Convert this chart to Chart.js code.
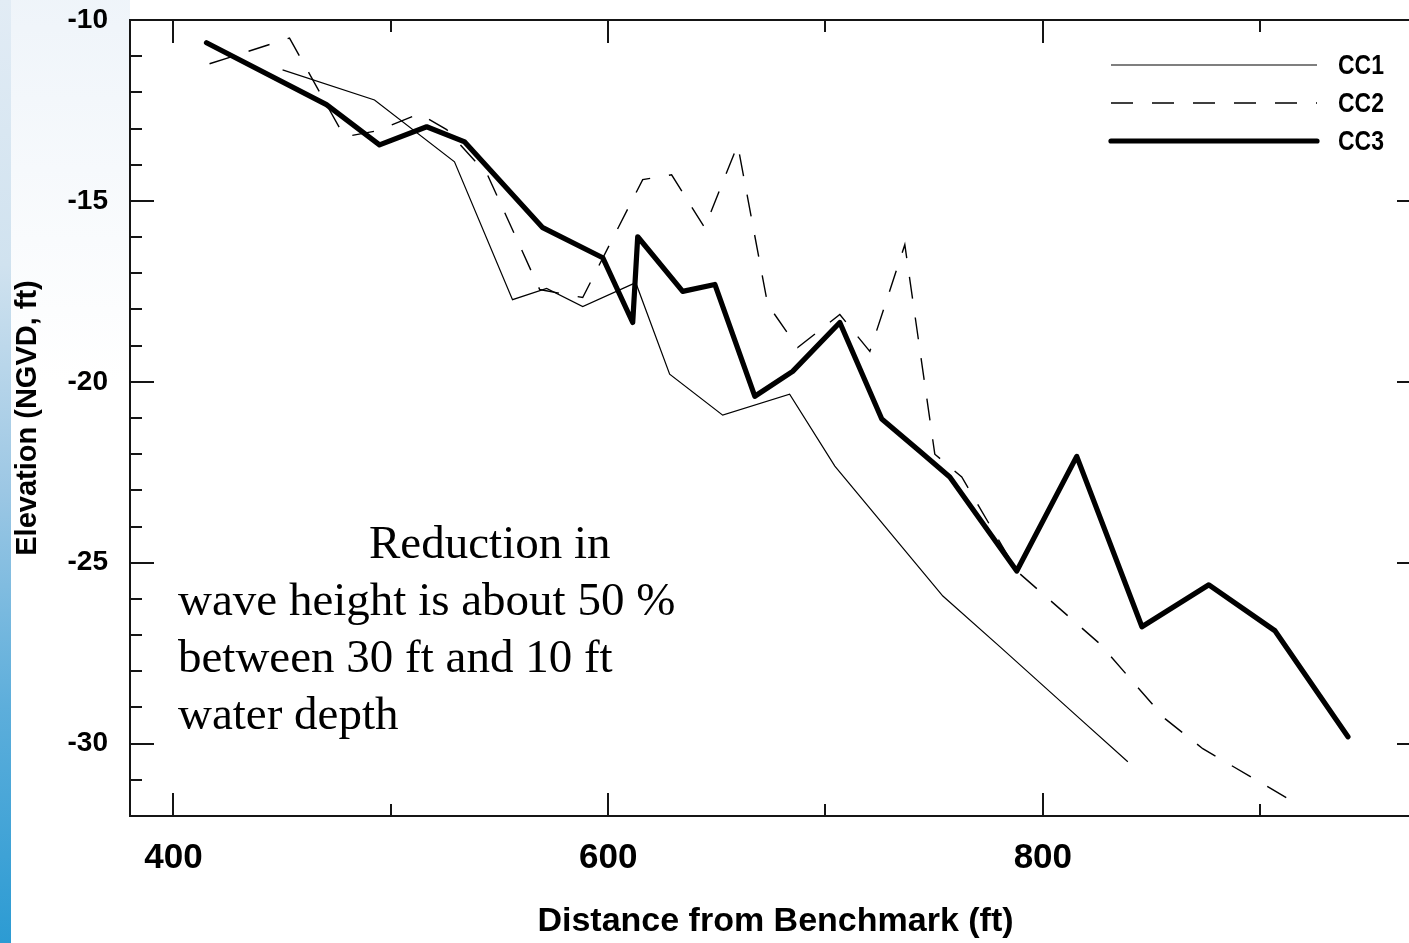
<!DOCTYPE html>
<html>
<head>
<meta charset="utf-8">
<script src="https://cdn.jsdelivr.net/npm/chart.js@4.4.0/dist/chart.umd.min.js"></script>
<style>
html,body{margin:0;padding:0;background:#fff;overflow:hidden;width:1409px;height:943px;}
#fade{position:absolute;left:11px;top:0;width:119px;height:380px;background:linear-gradient(to bottom,rgba(228,237,246,0.6),rgba(255,255,255,0));}
#strip{position:absolute;left:0;top:0;width:11px;height:943px;background:linear-gradient(to bottom,#e2ecf5 0%,#d0e2ef 28%,#9cc7e4 52%,#5daedb 75%,#2c9bd3 100%);}
#wrap{position:absolute;left:0;top:0;width:1430px;height:943px;}
</style>
</head>
<body>
<div id="fade"></div>
<div id="strip"></div>
<div id="wrap"><canvas id="c" width="1430" height="943"></canvas></div>
<script>
// ---- Data ----
const SERIES_NAMES = ['CC1', 'CC2', 'CC3'];

const CC1_X = [450.2, 492.5, 529.3, 556.0, 571.7, 588.3, 612.7, 628.3, 652.7, 683.5, 704.3, 754.0, 780.2, 817.0, 839.1];
const CC1_Y = [-11.38, -12.21, -13.92, -17.73, -17.42, -17.92, -17.26, -19.79, -20.92, -20.34, -22.33, -25.92, -27.32, -29.31, -30.50];

const CC2_X = [416.6, 453.4, 478.7, 493.9, 513.2, 525.7, 544.5, 568.5, 588.3, 615.9, 629.2, 644.4, 659.6, 673.4, 687.2, 706.6, 720.4, 736.5, 750.3, 762.7, 788.0, 826.2, 856.2, 873.6, 915.1];
const CC2_Y = [-11.21, -10.50, -13.23, -13.06, -12.59, -13.03, -14.28, -17.45, -17.67, -14.41, -14.28, -15.74, -13.45, -17.86, -19.05, -18.14, -19.16, -16.21, -22.00, -22.63, -25.23, -27.24, -29.31, -30.14, -31.60];

const CC3_X = [415.2, 470.4, 494.8, 516.5, 534.0, 569.9, 597.5, 611.3, 613.6, 634.3, 649.1, 667.5, 684.9, 706.6, 725.9, 743.4, 757.2, 788.0, 815.6, 845.6, 876.4, 906.8, 940.4];
const CC3_Y = [-10.63, -12.34, -13.45, -12.95, -13.37, -15.74, -16.57, -18.36, -15.99, -17.50, -17.31, -20.40, -19.71, -18.36, -21.03, -21.92, -22.63, -25.23, -22.06, -26.77, -25.61, -26.88, -29.81];

const X_TICKS = [400, 500, 600, 700, 800, 900];
const X_LABELED = [400, 600, 800];
const Y_TICKS = [-31, -30, -29, -28, -27, -26, -25, -24, -23, -22, -21, -20, -19, -18, -17, -16, -15, -14, -13, -12, -11, -10];
const Y_LABELED = [-30, -25, -20, -15, -10];

const X_TITLE = 'Distance from Benchmark (ft)';
const Y_TITLE = 'Elevation (NGVD, ft)';
const NOTE_LINES = ['Reduction in', 'wave height is about 50 %', 'between 30 ft and 10 ft', 'water depth'];

// ---- Chart ----
const toPts = (xs, ys) => xs.map((v, i) => ({x: v, y: ys[i]}));
const noPad = s => { s.paddingTop = 0; s.paddingBottom = 0; s.paddingLeft = 0; s.paddingRight = 0; };

const overlay = {
  id: 'overlay',
  afterDraw(chart) {
    const {ctx, chartArea: a, scales: {x, y}} = chart;
    ctx.save();
    ctx.strokeStyle = '#151515';
    ctx.lineWidth = 2;
    ctx.strokeRect(a.left, a.top, a.right - a.left, a.bottom - a.top);
    ctx.beginPath();
    y.ticks.forEach(t => {
      const p = Math.round(y.getPixelForValue(t.value));
      const L = Y_LABELED.includes(t.value) ? 24 : 12;
      ctx.moveTo(a.left, p); ctx.lineTo(a.left + L, p);
      ctx.moveTo(a.right, p); ctx.lineTo(a.right - L, p);
    });
    x.ticks.forEach(t => {
      const p = Math.round(x.getPixelForValue(t.value));
      const L = X_LABELED.includes(t.value) ? 23 : 12;
      ctx.moveTo(p, a.bottom); ctx.lineTo(p, a.bottom - L);
      ctx.moveTo(p, a.top); ctx.lineTo(p, a.top + L);
    });
    ctx.stroke();

    // legend
    const ly = [65, 103, 141];
    chart.data.datasets.forEach((ds, i) => {
      ctx.save();
      ctx.strokeStyle = '#000';
      ctx.lineWidth = ds.borderWidth;
      ctx.lineCap = ds.borderCapStyle || 'butt';
      ctx.setLineDash(ds.borderDash || []);
      ctx.beginPath();
      ctx.moveTo(1111, ly[i]); ctx.lineTo(1317, ly[i]);
      ctx.stroke();
      ctx.restore();
      ctx.save();
      ctx.translate(1338, ly[i] + 1);
      ctx.scale(0.82, 1);
      ctx.fillStyle = '#000';
      ctx.font = 'bold 28px "Liberation Sans", Arial, sans-serif';
      ctx.textBaseline = 'middle';
      ctx.textAlign = 'left';
      ctx.fillText(ds.label, 0, 0);
      ctx.restore();
    });

    // annotation text
    ctx.fillStyle = '#000';
    ctx.font = '47px "Liberation Serif", "Times New Roman", serif';
    ctx.textBaseline = 'alphabetic';
    ctx.textAlign = 'left';
    const nx = [369, 178, 178, 178];
    const nb = [558, 615, 672, 729];
    NOTE_LINES.forEach((s, i) => ctx.fillText(s, nx[i], nb[i]));
    ctx.restore();
  }
};

new Chart(document.getElementById('c'), {
  type: 'line',
  data: {
    datasets: [
      {label: SERIES_NAMES[0], data: toPts(CC1_X, CC1_Y), borderColor: '#000', borderWidth: 1.2, pointRadius: 0, tension: 0, fill: false},
      {label: SERIES_NAMES[1], data: toPts(CC2_X, CC2_Y), borderColor: '#000', borderWidth: 1.4, borderDash: [22, 19], pointRadius: 0, tension: 0, fill: false},
      {label: SERIES_NAMES[2], data: toPts(CC3_X, CC3_Y), borderColor: '#000', borderWidth: 5.2, borderJoinStyle: 'round', borderCapStyle: 'round', pointRadius: 0, tension: 0, fill: false}
    ]
  },
  options: {
    responsive: false,
    animation: false,
    events: [],
    layout: {padding: {top: 20, right: 9, bottom: 0, left: 0}},
    plugins: {legend: {display: false}, tooltip: {enabled: false}, title: {display: false}},
    scales: {
      x: {
        type: 'linear', position: 'bottom', min: 380, max: 974,
        afterBuildTicks: s => { s.ticks = X_TICKS.map(v => ({value: v})); },
        afterFit: s => { s.height = 127; noPad(s); },
        grid: {display: false},
        border: {display: false},
        ticks: {
          autoSkip: false, maxRotation: 0, padding: 13, color: '#000',
          font: {family: '"Liberation Sans", Arial, sans-serif', size: 35, weight: 'bold'},
          callback: v => X_LABELED.includes(v) ? String(v) : ''
        },
        title: {display: true, text: X_TITLE, color: '#000', padding: {top: 0, bottom: 1},
          font: {family: '"Liberation Sans", Arial, sans-serif', size: 34, weight: 'bold'}}
      },
      y: {
        type: 'linear', position: 'left', min: -32, max: -10,
        afterBuildTicks: s => { s.ticks = Y_TICKS.map(v => ({value: v})); },
        afterFit: s => { s.width = 130; noPad(s); },
        grid: {display: false},
        border: {display: false},
        ticks: {
          autoSkip: false, padding: 14, color: '#000',
          font: {family: '"Liberation Sans", Arial, sans-serif', size: 28, weight: 'bold'},
          callback: v => Y_LABELED.includes(v) ? String(v) : ''
        },
        title: {display: true, text: Y_TITLE, color: '#000', padding: {top: 11, bottom: 0},
          font: {family: '"Liberation Sans", Arial, sans-serif', size: 29, weight: 'bold'}}
      }
    }
  },
  plugins: [overlay]
});
</script>
</body>
</html>
